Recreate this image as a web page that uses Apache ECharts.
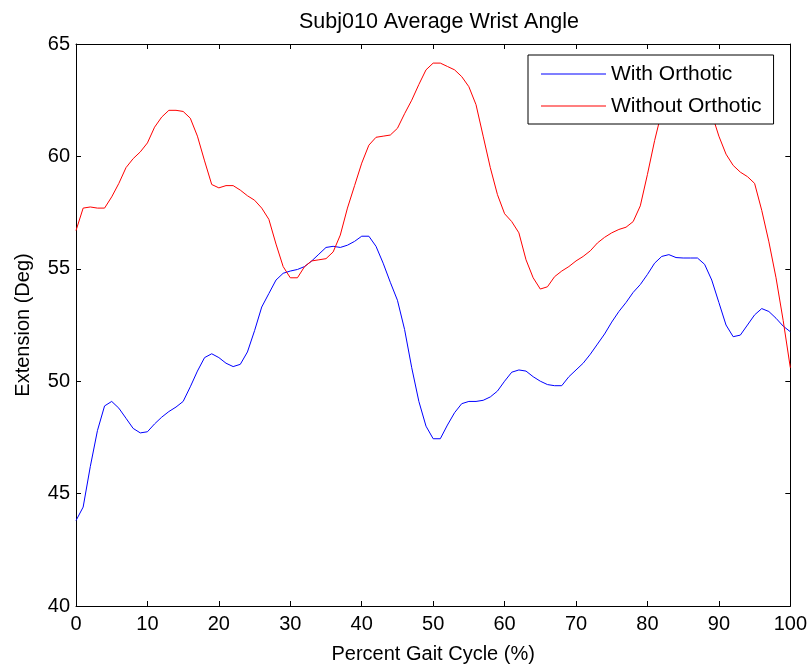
<!DOCTYPE html>
<html>
<head>
<meta charset="utf-8">
<script src="https://cdn.jsdelivr.net/npm/echarts@6/dist/echarts.min.js"></script>
<style>html,body{margin:0;padding:0;background:#fff;}#c{width:810px;height:669px;}</style>
</head>
<body>
<div id="c"></div>
<script>
const percent = Array.from({length: 101}, (_, i) => i);
const withOrthotic = [
43.8,44.4,46.2,47.8,48.9,49.1,48.8,48.35,47.9,47.7,
47.75,48.1,48.4,48.65,48.85,49.1,49.75,50.45,51.05,51.22,
51.05,50.8,50.65,50.75,51.3,52.25,53.3,53.9,54.5,54.8,
54.9,54.97,55.1,55.35,55.65,55.95,56.0,55.95,56.05,56.22,
56.45,56.45,56.0,55.25,54.4,53.6,52.3,50.6,49.1,48.0,
47.44,47.44,48.05,48.6,49.0,49.1,49.1,49.15,49.3,49.56,
50.0,50.4,50.5,50.45,50.2,50.0,49.85,49.8,49.8,50.2,
50.5,50.8,51.2,51.65,52.1,52.63,53.1,53.5,53.95,54.3,
54.75,55.25,55.55,55.63,55.5,55.48,55.48,55.48,55.2,54.5,
53.5,52.5,51.98,52.05,52.5,52.95,53.23,53.1,52.8,52.45,
52.2];
const withoutOrthotic = [
56.7,57.7,57.75,57.7,57.7,58.2,58.8,59.5,59.9,60.2,
60.6,61.3,61.75,62.05,62.05,62.0,61.7,60.9,59.8,58.75,
58.6,58.7,58.7,58.5,58.25,58.05,57.7,57.2,56.1,55.1,
54.6,54.6,55.1,55.35,55.4,55.45,55.75,56.5,57.7,58.7,
59.7,60.5,60.85,60.9,60.95,61.25,61.9,62.5,63.2,63.85,
64.15,64.15,64.0,63.85,63.55,63.1,62.3,60.9,59.5,58.3,
57.45,57.1,56.6,55.4,54.6,54.1,54.2,54.65,54.9,55.1,
55.35,55.55,55.8,56.15,56.4,56.6,56.75,56.85,57.1,57.8,
59.2,60.7,62.0,63.0,63.6,63.8,63.6,63.2,62.6,61.9,
60.9,60.1,59.6,59.3,59.1,58.8,57.6,56.2,54.6,52.7,
50.6];
const seriesNames = ['With Orthotic', 'Without Orthotic'];
const xTicks = [0, 100, 10];
const yTicks = [40, 65, 5];

const font = 'Arial, "Liberation Sans", Helvetica, sans-serif';
const chart = echarts.init(document.getElementById('c'));
const pairs = arr => arr.map((v, i) => [percent[i], v]);
const tickStyle = {show: true, inside: true, length: 5, lineStyle: {color: '#000', width: 1}};
const lineAx = {show: true, onZero: false, lineStyle: {color: '#000', width: 1}};
chart.setOption({
  animation: false,
  backgroundColor: '#fff',
  title: {
    text: 'Subj010 Average Wrist Angle',
    left: 434, top: 6, textAlign: 'center',
    textStyle: {fontFamily: font, fontSize: 21.5, fontWeight: 'normal', color: '#000'}
  },
  grid: {left: 76, right: 18, top: 44, bottom: 63, containLabel: false},
  legend: {
    data: seriesNames.map(n => ({name: n, icon: 'rect'})),
    orient: 'vertical',
    left: 528, top: 55,
    padding: [7, 12, 6, 13],
    itemGap: 8,
    itemWidth: 65, itemHeight: 1,
    itemTextGap: 10,
    backgroundColor: '#fff',
    borderColor: '#000', borderWidth: 1, borderRadius: 0,
    textStyle: {fontFamily: font, fontSize: 21, color: '#000', lineHeight: 21, padding: [3, 0, 0, 0]}
  },
  xAxis: [{
    type: 'value', min: xTicks[0], max: xTicks[1], interval: xTicks[2],
    name: 'Percent Gait Cycle (%)', nameLocation: 'middle', nameGap: 38,
    nameTextStyle: {fontFamily: font, fontSize: 20, color: '#000'},
    axisLine: lineAx, axisTick: tickStyle,
    axisLabel: {fontFamily: font, fontSize: 20, color: '#000', margin: 8},
    splitLine: {show: false}
  }, {
    type: 'value', position: 'top', min: xTicks[0], max: xTicks[1], interval: xTicks[2],
    axisLine: lineAx, axisTick: tickStyle, axisLabel: {show: false}, splitLine: {show: false}
  }],
  yAxis: [{
    type: 'value', min: yTicks[0], max: yTicks[1], interval: yTicks[2],
    name: 'Extension (Deg)', nameLocation: 'middle', nameGap: 43,
    nameTextStyle: {fontFamily: font, fontSize: 20, color: '#000'},
    axisLine: lineAx, axisTick: tickStyle,
    axisLabel: {fontFamily: font, fontSize: 20, color: '#000', margin: 6},
    splitLine: {show: false}
  }, {
    type: 'value', position: 'right', min: yTicks[0], max: yTicks[1], interval: yTicks[2],
    axisLine: lineAx, axisTick: tickStyle, axisLabel: {show: false}, splitLine: {show: false}
  }],
  series: [{
    name: seriesNames[0], type: 'line', data: pairs(withOrthotic),
    showSymbol: false, symbol: 'none', lineStyle: {color: '#0000ff', width: 1}, itemStyle: {color: '#0000ff'}
  }, {
    name: seriesNames[1], type: 'line', data: pairs(withoutOrthotic),
    showSymbol: false, symbol: 'none', lineStyle: {color: '#ff0000', width: 1}, itemStyle: {color: '#ff0000'}
  }]
});
</script>
</body>
</html>
